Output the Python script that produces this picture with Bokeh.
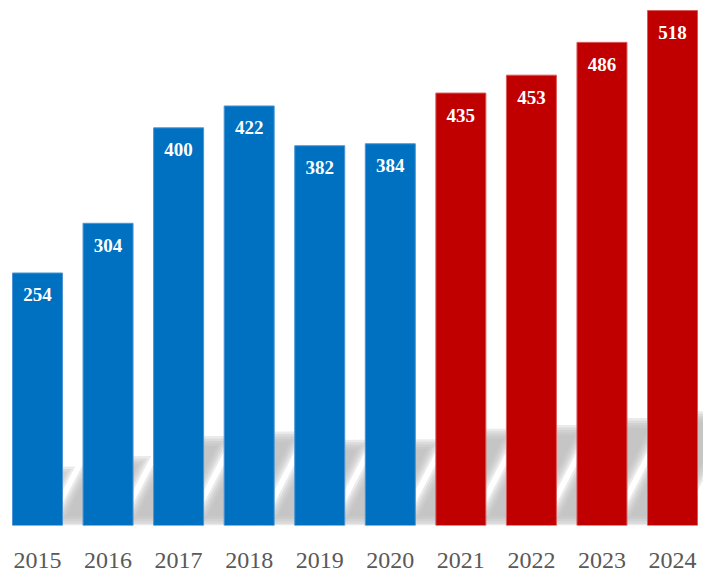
from bokeh.plotting import figure
from bokeh.models import Range1d, FixedTicker, ColumnDataSource
from bokeh.core.properties import value
from bokeh.embed import file_html
from bokeh.resources import INLINE

# ---- data ----
years = ["2015", "2016", "2017", "2018", "2019", "2020", "2021", "2022", "2023", "2024"]
values = [254, 304, 400, 422, 382, 384, 435, 453, 486, 518]
first_red_year = "2021"

# ---- geometry / styles ----
FIG_W, FIG_H = 703, 581
BOTTOM = 56
FRAME_W, FRAME_H = FIG_W, FIG_H - BOTTOM
X0, X1 = -0.5244, 9.439
Y0, Y1 = 0, 528.1
PXX = FRAME_W / (X1 - X0)
PXY = FRAME_H / (Y1 - Y0)
BAR_W = 0.7086
BLUE, RED = "#0070C0", "#C00000"
BLUE_EDGE, RED_EDGE = "#4a94d6", "#dc5a5a"

idx = list(range(len(years)))
red_start = years.index(first_red_year)
fills = [BLUE if i < red_start else RED for i in idx]
edges = [BLUE_EDGE if i < red_start else RED_EDGE for i in idx]

p = figure(width=FIG_W, height=FIG_H,
           x_range=Range1d(X0, X1), y_range=Range1d(Y0, Y1),
           output_backend="svg", toolbar_location=None,
           y_axis_location=None,
           min_border_left=0, min_border_right=0, min_border_top=0,
           min_border_bottom=BOTTOM,
           background_fill_color="white", border_fill_color="white")
p.outline_line_color = None
p.grid.visible = False

# ---- perspective shadows (computed from the values) ----
def clip_left(pts, xc):
    out = []
    n = len(pts)
    for k in range(n):
        a = pts[k]
        b = pts[(k + 1) % n]
        ain = a[0] >= xc
        bin_ = b[0] >= xc
        if ain:
            out.append(a)
        if ain != bin_:
            t = (xc - a[0]) / (b[0] - a[0])
            out.append((xc, a[1] + t * (b[1] - a[1])))
    return out

x_clip = idx[0] - BAR_W / 2
HALF = 26.0     # px half width of shadow core
SHIFT0 = -25.0  # px horizontal offset of shadow at base
SKEW = 0.52     # px right per px up
RATIO = 0.21    # shadow height relative to bar height
T0 = 5.0

for e in [6.0, 3.5, 1.0, -1.5, -4.0]:
    xs, ys = [], []
    for i, v in zip(idx, values):
        h = RATIO * v * PXY
        tb = max(0.0, T0 - e)
        tt = h + e
        cb = SHIFT0 + SKEW * tb
        ct = SHIFT0 + SKEW * tt
        pts_px = [(cb - HALF - e, tb), (cb + HALF + e, tb),
                  (ct + HALF + e, tt), (ct - HALF - e, tt)]
        pts = [(i + px / PXX, py / PXY) for px, py in pts_px]
        pts = clip_left(pts, x_clip)
        xs.append([q[0] for q in pts])
        ys.append([q[1] for q in pts])
    p.patches(xs, ys, fill_color="#b8b8b8", fill_alpha=0.3, line_color=None)

# ---- bars ----
src = ColumnDataSource(dict(x=idx, top=values, fill=fills, edge=edges,
                            ly=[v - 22 / PXY for v in values],
                            lbl=[str(v) for v in values]))
p.vbar(x="x", top="top", width=BAR_W, bottom=0, fill_color="fill",
       line_color="edge", line_width=1, source=src)

p.text(x="x", y="ly", text="lbl", source=src,
       text_font=value("Liberation Serif"), text_font_style="bold",
       text_font_size="19px", text_color="white",
       text_align="center", text_baseline="middle")

# ---- x axis ----
ax = p.xaxis[0]
ax.ticker = FixedTicker(ticks=idx)
ax.major_label_overrides = {i: y for i, y in zip(idx, years)}
ax.axis_line_color = None
ax.major_tick_line_color = None
ax.minor_tick_line_color = None
ax.major_tick_out = 0
ax.major_tick_in = 0
ax.major_label_standoff = 27
ax.major_label_text_font = "Liberation Serif"
ax.major_label_text_font_size = "24px"
ax.major_label_text_color = "#595959"

open("out.html", "w").write(file_html(p, INLINE))
